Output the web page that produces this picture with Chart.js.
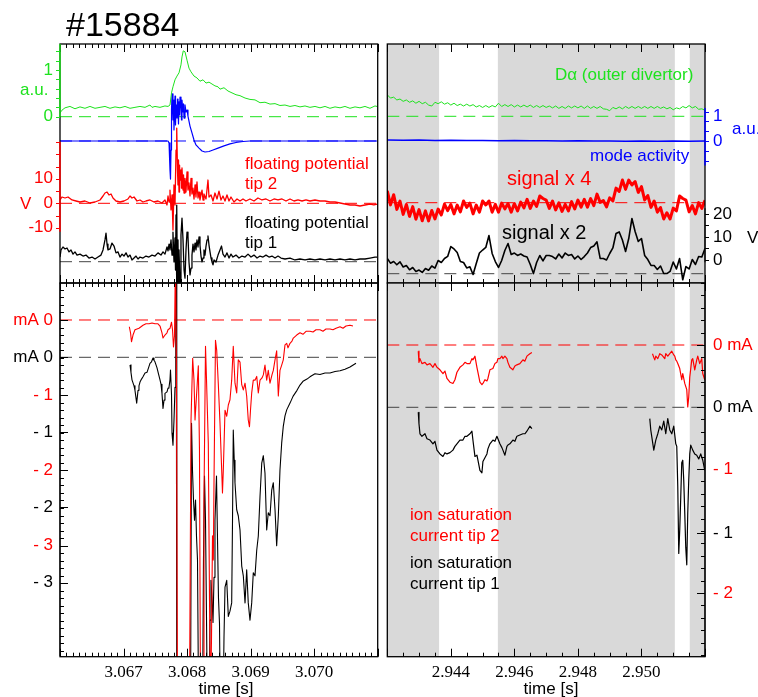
<!DOCTYPE html>
<html>
<head>
<meta charset="utf-8">
<script src="https://cdn.jsdelivr.net/npm/chart.js@4.4.1/dist/chart.umd.min.js"></script>
<style>
  html, body { margin: 0; padding: 0; background: #fff; }
  #wrap { position: relative; width: 758px; height: 697px; overflow: hidden; }
  #wrap canvas { position: absolute; left: 0; top: 0; }
</style>
</head>
<body>
<div id="wrap">
  <canvas id="tl" width="758" height="697"></canvas>
  <canvas id="bl" width="758" height="697"></canvas>
  <canvas id="tr" width="758" height="697"></canvas>
  <canvas id="br" width="758" height="697"></canvas>
</div>
<script>
// ── shot #15884, left window (3.066 – 3.071 s) ────────────────────
const tlDaT = [3.066000,3.066031,3.066079,3.066157,3.066236,3.066315,3.066393,3.066472,3.066551,3.066630,
  3.066708,3.066787,3.066866,3.066944,3.067023,3.067102,3.067180,3.067259,3.067338,3.067416,
  3.067448,3.067495,3.067574,3.067652,3.067700,3.067731,3.067755,3.067778,3.067810,3.067841,
  3.067873,3.067904,3.067920,3.067940,3.067967,3.067999,3.068030,3.068062,3.068109,3.068156,
  3.068203,3.068251,3.068298,3.068345,3.068392,3.068439,3.068487,3.068518,3.068581,3.068644,
  3.068707,3.068770,3.068833,3.068912,3.068990,3.069069,3.069148,3.069226,3.069305,3.069384,
  3.069462,3.069541,3.069620,3.069698,3.069777,3.069856,3.069934,3.070013,3.070092,3.070171,
  3.070249,3.070328,3.070407,3.070485,3.070564,3.070643,3.070721,3.070800,3.070879,3.070957,3.070989];
const tlDa = [0.08,0.14,0.19,0.22,0.17,0.21,0.18,0.22,0.18,0.20,
  0.22,0.18,0.21,0.19,0.22,0.18,0.20,0.22,0.20,0.25,
  0.20,0.22,0.20,0.23,0.22,0.25,0.51,0.64,0.79,0.87,
  0.94,1.11,1.28,1.41,1.39,1.21,1.04,0.96,0.87,0.83,
  0.76,0.79,0.72,0.74,0.70,0.66,0.64,0.59,0.62,0.55,
  0.51,0.47,0.45,0.40,0.37,0.36,0.30,0.31,0.27,0.28,
  0.24,0.25,0.22,0.24,0.21,0.23,0.20,0.22,0.19,0.22,
  0.18,0.21,0.19,0.22,0.18,0.21,0.19,0.22,0.18,0.23,0.22];

const tlModeT = [3.066000,3.066630,3.067259,3.067700,3.067716,3.067731,3.067739,3.067747,3.067755,3.067763,
  3.067778,3.067786,3.067794,3.067802,3.067810,3.067818,3.067826,3.067841,3.067849,3.067857,
  3.067865,3.067873,3.067881,3.067889,3.067904,3.067912,3.067920,3.067936,3.067944,3.067952,
  3.067967,3.067983,3.067999,3.068014,3.068046,3.068077,3.068109,3.068140,3.068188,3.068235,
  3.068282,3.068345,3.068408,3.068487,3.068581,3.068675,3.068770,3.068880,3.068990,3.069777,3.070989];
const tlMode = [0,0,0,0,-0.08,-1.19,-1.56,-0.37,1.27,1.93,
  0.86,1.68,0.45,1.19,1.84,0.66,1.48,0.94,1.72,1.27,
  0.70,1.60,1.07,1.80,1.35,0.86,1.68,1.19,1.52,0.94,
  1.48,1.19,1.27,1.02,0.61,0.33,0.04,-0.16,-0.29,-0.41,
  -0.45,-0.43,-0.37,-0.29,-0.20,-0.12,-0.06,-0.02,0,0,0];

const tlVf2T = [3.066000,3.066031,3.066079,3.066126,3.066189,3.066252,3.066315,3.066393,3.066472,3.066551,
  3.066630,3.066677,3.066708,3.066740,3.066771,3.066803,3.066834,3.066881,3.066944,3.067007,
  3.067070,3.067102,3.067133,3.067165,3.067212,3.067259,3.067306,3.067353,3.067416,3.067479,
  3.067542,3.067605,3.067652,3.067684,3.067700,3.067716,3.067731,3.067747,3.067763,3.067778,
  3.067794,3.067810,3.067826,3.067837,3.067849,3.067857,3.067865,3.067873,3.067881,3.067889,
  3.067904,3.067912,3.067920,3.067936,3.067944,3.067952,3.067967,3.067983,3.067999,3.068014,
  3.068030,3.068046,3.068062,3.068077,3.068093,3.068109,3.068125,3.068140,3.068156,3.068172,
  3.068188,3.068203,3.068235,3.068251,3.068266,3.068298,3.068329,3.068345,3.068377,3.068408,
  3.068439,3.068471,3.068502,3.068534,3.068565,3.068597,3.068628,3.068660,3.068691,3.068738,
  3.068786,3.068833,3.068880,3.068927,3.068990,3.069053,3.069116,3.069179,3.069242,3.069305,
  3.069368,3.069431,3.069494,3.069557,3.069620,3.069683,3.069746,3.069809,3.069872,3.069934,
  3.070013,3.070092,3.070171,3.070249,3.070328,3.070407,3.070485,3.070564,3.070643,3.070721,
  3.070800,3.070879,3.070941,3.070989];
const tlVf2 = [1.35,2.57,2.16,2.57,1.35,0.94,0.53,0.94,0.12,0.53,
  1.35,2.98,4.2,4.6,3.4,3.8,2.16,0.94,0.53,0.94,
  1.76,2.98,2.16,2.57,0.94,1.35,0.53,0.94,1.35,0.53,
  0.94,0.12,1.35,-0.69,2.98,0.53,5.4,-2.7,3.4,-10.9,
  7.5,-0.69,21.7,30.7,13.6,7.5,17.7,4.6,15.6,9.5,
  13.6,6.2,14.4,5.4,11.6,4.2,10.2,4.6,12.8,5.4,
  8.3,3.0,10.2,3.8,6.2,1.76,7.5,2.57,8.7,2.16,
  4.6,1.35,5.4,1.35,3.8,1.76,9.5,2.57,3.4,0.94,
  4.2,1.76,5.0,1.35,2.98,0.94,3.4,0.94,2.57,0.53,
  1.76,0.94,1.76,0.94,1.76,0.94,2.16,1.35,1.76,0.94,
  1.76,1.35,1.76,0.94,1.76,0.94,1.35,0.94,1.35,0.94,
  1.35,0.94,0.94,0.53,0.53,0.12,-0.29,-0.69,-0.69,-1.1,
  -0.69,-0.29,-0.69,-0.29];

const tlVf1T = [3.066000,3.066016,3.066047,3.066079,3.066110,3.066142,3.066173,3.066205,3.066236,3.066268,
  3.066315,3.066362,3.066409,3.066456,3.066504,3.066551,3.066598,3.066645,3.066677,3.066708,
  3.066724,3.066740,3.066755,3.066787,3.066818,3.066850,3.066881,3.066913,3.066944,3.066976,
  3.067007,3.067039,3.067070,3.067102,3.067133,3.067165,3.067196,3.067228,3.067259,3.067306,
  3.067353,3.067400,3.067448,3.067495,3.067542,3.067589,3.067621,3.067652,3.067684,3.067700,
  3.067716,3.067731,3.067747,3.067763,3.067778,3.067794,3.067810,3.067818,3.067826,3.067833,
  3.067841,3.067849,3.067857,3.067865,3.067873,3.067889,3.067904,3.067920,3.067936,3.067952,
  3.067967,3.067983,3.067999,3.068014,3.068030,3.068046,3.068062,3.068077,3.068093,3.068109,
  3.068125,3.068140,3.068156,3.068172,3.068188,3.068203,3.068219,3.068235,3.068251,3.068266,
  3.068282,3.068298,3.068314,3.068329,3.068345,3.068361,3.068377,3.068392,3.068408,3.068424,
  3.068455,3.068487,3.068518,3.068542,3.068565,3.068597,3.068628,3.068660,3.068691,3.068722,
  3.068770,3.068817,3.068864,3.068912,3.068959,3.069006,3.069053,3.069101,3.069148,3.069195,
  3.069242,3.069289,3.069336,3.069384,3.069431,3.069478,3.069541,3.069620,3.069698,3.069777,
  3.069856,3.069934,3.070013,3.070092,3.070171,3.070249,3.070328,3.070407,3.070485,3.070564,
  3.070643,3.070721,3.070800,3.070879,3.070957,3.070989];
const tlVf1 = [1.9,4.8,6.0,5.2,5.6,4.0,4.8,3.1,4.0,2.7,
  3.1,2.3,2.7,1.5,1.9,1.1,1.9,2.7,4.8,8.9,
  11.7,7.2,4.8,5.2,7.6,6.4,3.6,4.0,1.9,3.1,
  2.3,3.6,1.9,2.7,0.7,1.5,2.3,1.1,1.9,1.5,
  2.3,1.9,2.7,2.3,3.6,2.7,4.0,3.1,6.0,4.4,
  7.2,4.8,8.9,2.7,12.1,-0.1,9.7,-3.4,19.1,-9.5,
  23.1,-11.6,8.9,-11.6,4.8,-9.5,10.9,17.8,8.9,-3.4,
  -6.7,4.8,12.1,10.5,-0.1,-5.4,-2.6,2.7,7.2,4.0,
  7.6,4.8,8.9,6.0,10.1,6.8,2.3,-0.1,1.5,4.8,
  2.7,6.4,8.9,10.5,6.8,4.0,1.5,-0.1,-1.3,0.7,
  -0.1,2.7,4.8,6.4,3.1,1.9,3.6,1.5,3.1,1.9,
  2.7,1.5,2.3,1.9,3.1,1.9,2.7,1.5,2.3,1.9,
  2.7,1.9,2.3,1.5,2.3,1.5,1.1,1.5,0.7,1.1,
  0.7,1.1,0.7,1.1,0.7,1.1,0.7,1.1,0.7,1.1,
  0.7,1.1,1.1,1.5,1.9,1.9];

const blIs2T = [3.067091,3.067110,3.067125,3.067149,3.067180,3.067212,3.067243,3.067275,3.067306,3.067353,
  3.067401,3.067448,3.067495,3.067542,3.067574,3.067605,3.067621,3.067652,3.067684,3.067700,
  3.067731,3.067755,3.067771,3.067786,3.067802,3.067818,3.067833,3.067849,3.068038,3.068062,
  3.068088,3.068109,3.068125,3.068148,3.068177,3.068195,3.068211,3.068251,3.068266,3.068290,
  3.068306,3.068334,3.068353,3.068369,3.068384,3.068400,3.068413,3.068424,3.068447,3.068466,
  3.068491,3.068518,3.068545,3.068557,3.068570,3.068597,3.068624,3.068649,3.068675,3.068702,
  3.068727,3.068754,3.068781,3.068806,3.068833,3.068860,3.068885,3.068912,3.068938,3.068963,
  3.068982,3.068998,3.069017,3.069042,3.069069,3.069096,3.069121,3.069148,3.069179,3.069200,
  3.069226,3.069253,3.069278,3.069305,3.069336,3.069357,3.069384,3.069410,3.069436,3.069462,
  3.069489,3.069514,3.069541,3.069568,3.069588,3.069620,3.069651,3.069672,3.069725,3.069777,
  3.069824,3.069872,3.069934,3.069982,3.070029,3.070092,3.070139,3.070186,3.070249,3.070296,
  3.070344,3.070407,3.070454,3.070501,3.070564,3.070611];
const blIs2 = [-0.09,-0.17,-0.29,-0.20,-0.13,-0.12,-0.11,-0.09,-0.07,-0.05,
  -0.05,-0.04,-0.05,-0.05,-0.08,-0.17,-0.24,-0.20,-0.17,-0.13,
  -0.11,-0.03,-0.13,-0.36,-0.21,0.93,-0.80,-5.05,-5.05,-1.33,
  -0.51,-0.80,-1.33,-1.01,-0.61,-1.73,-5.05,-5.05,-2.39,-0.35,
  -0.80,-1.64,-3.72,-5.05,-4.26,-2.87,-3.19,-2.13,-0.27,-0.40,
  -0.84,-1.37,-2.00,-2.30,-2.00,-1.20,-1.28,-1.13,-1.06,-0.80,
  -0.35,-0.84,-0.97,-0.53,-0.56,-0.86,-0.93,-0.84,-1.01,-1.33,
  -1.42,-1.20,-0.97,-0.80,-0.80,-0.75,-0.97,-0.80,-0.77,-0.73,
  -0.60,-0.80,-0.67,-0.84,-0.73,-0.67,-0.53,-0.41,-1.01,-0.67,
  -0.60,-0.53,-0.33,-0.31,-0.37,-0.31,-0.28,-0.24,-0.20,-0.17,
  -0.19,-0.15,-0.15,-0.16,-0.13,-0.13,-0.15,-0.12,-0.12,-0.13,
  -0.11,-0.09,-0.11,-0.08,-0.07,-0.08];

const blIs1T = [3.067102,3.067117,3.067133,3.067149,3.067165,3.067180,3.067207,3.067228,3.067243,3.067259,
  3.067283,3.067306,3.067338,3.067369,3.067393,3.067416,3.067440,3.067464,3.067479,3.067495,
  3.067511,3.067527,3.067550,3.067574,3.067590,3.067605,3.067621,3.067637,3.067652,3.067684,
  3.067700,3.067715,3.067731,3.067739,3.067755,3.067763,3.067778,3.067794,3.067810,3.067822,
  3.067830,3.067838,3.068054,3.068070,3.068085,3.068101,3.068117,3.068133,3.068148,3.068164,
  3.068180,3.068195,3.068243,3.068258,3.068274,3.068290,3.068306,3.068321,3.068345,3.068361,
  3.068376,3.068392,3.068408,3.068424,3.068439,3.068463,3.068479,3.068494,3.068510,3.068526,
  3.068565,3.068581,3.068597,3.068624,3.068649,3.068675,3.068702,3.068715,3.068727,3.068742,
  3.068754,3.068781,3.068806,3.068833,3.068860,3.068885,3.068912,3.068938,3.068963,3.068990,
  3.069017,3.069042,3.069069,3.069096,3.069121,3.069148,3.069175,3.069200,3.069226,3.069253,
  3.069278,3.069305,3.069332,3.069357,3.069384,3.069410,3.069436,3.069462,3.069489,3.069514,
  3.069541,3.069568,3.069620,3.069667,3.069730,3.069777,3.069824,3.069887,3.069934,3.070013,
  3.070092,3.070171,3.070249,3.070328,3.070407,3.070485,3.070564,3.070658];
const blIs1 = [-0.10,-0.20,-0.30,-0.34,-0.38,-0.44,-0.61,-0.44,-0.38,-0.33,
  -0.29,-0.26,-0.21,-0.20,-0.14,-0.08,-0.06,-0.01,-0.04,-0.06,
  -0.10,-0.14,-0.22,-0.30,-0.36,-0.48,-0.68,-0.57,-0.48,-0.46,
  -0.41,-0.40,-0.30,-0.17,-0.50,-1.01,-1.17,-0.84,-0.40,1.16,
  1.16,-4.82,-4.82,-0.88,-1.50,-1.90,-2.17,-1.90,-2.38,-2.70,
  -4.55,-4.82,-4.82,-2.70,-1.58,-2.17,-3.50,-4.82,-4.82,-3.50,
  -2.97,-3.20,-3.53,-2.93,-2.17,-1.58,-2.43,-3.20,-3.54,-4.82,
  -4.82,-3.73,-3.06,-2.97,-3.45,-3.38,-3.27,-2.17,-0.97,-1.37,
  -1.67,-2.03,-2.11,-2.30,-2.78,-2.91,-3.27,-2.83,-3.27,-3.50,
  -3.27,-2.87,-2.91,-2.57,-2.38,-1.85,-1.41,-1.31,-1.54,-2.30,
  -2.07,-2.11,-1.77,-1.67,-2.03,-2.51,-2.11,-1.50,-1.14,-0.92,
  -0.78,-0.70,-0.61,-0.52,-0.44,-0.37,-0.32,-0.29,-0.26,-0.22,
  -0.23,-0.21,-0.21,-0.19,-0.18,-0.16,-0.13,-0.08];

// ── right window (2.942 – 2.952 s) ───────────────────────────────
const trTime = [2.9420,2.9421,2.9422,2.9423,2.9424,2.9425,2.9426,2.9427,2.9428,2.9429,
  2.9430,2.9431,2.9432,2.9433,2.9434,2.9435,2.9436,2.9437,2.9438,2.9439,
  2.9440,2.9441,2.9442,2.9443,2.9444,2.9445,2.9446,2.9447,2.9448,2.9449,
  2.9450,2.9451,2.9452,2.9453,2.9454,2.9455,2.9456,2.9457,2.9458,2.9459,
  2.9460,2.9461,2.9462,2.9463,2.9464,2.9465,2.9466,2.9467,2.9468,2.9469,
  2.9470,2.9471,2.9472,2.9473,2.9474,2.9475,2.9476,2.9477,2.9478,2.9479,
  2.9480,2.9481,2.9482,2.9483,2.9484,2.9485,2.9486,2.9487,2.9488,2.9489,
  2.9490,2.9491,2.9492,2.9493,2.9494,2.9495,2.9496,2.9497,2.9498,2.9499,
  2.9500,2.9501,2.9502,2.9503,2.9504,2.9505,2.9506,2.9507,2.9508,2.9509,
  2.9510,2.9511,2.9512,2.9513,2.9514,2.9515,2.9516,2.9517,2.9518,2.9519,
  2.9520];
const trDa = [0.46,0.39,0.41,0.35,0.37,0.32,0.35,0.30,0.33,0.28,
  0.32,0.27,0.30,0.24,0.22,0.30,0.27,0.31,0.26,0.29,
  0.24,0.28,0.23,0.26,0.22,0.26,0.22,0.25,0.20,0.23,
  0.19,0.23,0.19,0.23,0.20,0.28,0.21,0.25,0.21,0.25,
  0.20,0.24,0.20,0.24,0.20,0.24,0.19,0.23,0.19,0.23,
  0.19,0.22,0.18,0.22,0.17,0.21,0.17,0.22,0.18,0.22,
  0.18,0.22,0.17,0.22,0.17,0.21,0.17,0.21,0.16,0.15,
  0.12,0.19,0.16,0.20,0.16,0.21,0.17,0.21,0.17,0.21,
  0.17,0.21,0.17,0.21,0.17,0.21,0.17,0.20,0.16,0.19,
  0.14,0.18,0.16,0.21,0.18,0.23,0.18,0.21,0.15,0.16,
  0.13];
const trVf2 = [1.21,-0.22,0.82,-0.68,0.16,-1.19,-0.18,-1.40,-0.40,-1.68,
  -0.70,-1.84,-0.83,-1.86,-0.79,-1.66,-0.65,-1.25,-0.14,-0.81,
  -0.19,-1.14,-0.24,-0.94,0.17,-0.48,-0.04,-1.14,-0.24,-0.97,
  0.17,-0.23,0.17,-0.97,-0.17,-0.97,-0.04,-0.63,-0.09,-0.97,
  -0.09,-0.84,0.06,-0.53,0.34,-0.58,0.17,-0.38,0.68,0.43,
  0.27,-0.58,0.17,-0.74,-0.01,-0.89,-0.17,-0.84,0.11,-0.63,
  0.27,-0.46,0.34,-0.46,0.42,-0.30,0.88,0.03,0.22,-0.43,
  0.50,0.18,1.49,1.15,2.31,1.36,2.31,1.81,2.16,1.05,
  1.64,0.28,0.73,-0.48,0.17,-0.97,-0.50,-1.66,-1.03,-1.66,
  -0.55,-0.84,0.68,0.43,0.27,-0.94,-0.29,-1.14,0.01,-0.58,
  0.24];
const trVf1 = [3.10,2.15,2.48,1.82,2.42,1.37,1.67,0.80,1.26,0.46,
  0.75,0.25,1.06,0.70,1.57,1.13,2.69,2.29,3.10,3.52,
  5.54,5.05,4.32,2.50,2.28,1.17,1.40,-0.16,2.08,4.23,
  4.83,5.35,7.79,4.13,2.48,1.27,2.69,4.74,6.16,3.92,
  4.22,3.72,4.01,3.62,3.40,1.88,0.03,2.29,3.71,2.60,
  3.71,3.72,3.50,3.01,4.01,3.21,4.22,3.72,3.91,3.01,
  3.61,2.90,3.50,4.23,5.34,5.66,6.50,3.11,3.10,2.80,
  4.12,5.25,8.20,8.52,6.87,4.54,7.18,11.27,8.61,6.58,
  7.18,3.72,2.89,1.68,1.67,0.86,1.57,0.05,0.03,0.46,
  2.38,0.97,3.10,-1.24,1.46,0.97,2.89,1.88,3.50,3.41,
  5.14];
const trModeT = [2.9420,2.9425,2.9430,2.9435,2.9440,2.9445,2.9450,2.9455,2.9460,2.9465,
  2.9470,2.9475,2.9480,2.9485,2.9490,2.9495,2.9500,2.9505,2.9510,2.9515,2.9520];
const trMode = [0.04,0.03,0.04,0.02,0.03,0.02,0.02,0.01,0.02,0.01,
  0.01,0,0.01,0,0,-0.01,0,-0.01,0,-0.01,0];

const brTime1 = [2.942975,2.942997,2.943028,2.943091,2.943186,2.943249,2.943343,2.943437,2.943500,2.943563,
  2.943657,2.943752,2.943815,2.943878,2.943972,2.944066,2.944129,2.944192,2.944286,2.944381,
  2.944444,2.944507,2.944601,2.944664,2.944695,2.944758,2.944821,2.944853,2.944915,2.944978,
  2.945010,2.945073,2.945136,2.945167,2.945230,2.945324,2.945387,2.945450,2.945482,2.945544,
  2.945607,2.945639,2.945702,2.945765,2.945796,2.945859,2.945953,2.946016,2.946079,2.946173,
  2.946268,2.946331,2.946394,2.946488,2.946551];
const brIs2a = [-0.05,-0.14,-0.11,-0.15,-0.14,-0.16,-0.15,-0.18,-0.15,-0.18,
  -0.20,-0.23,-0.21,-0.27,-0.30,-0.31,-0.28,-0.22,-0.18,-0.16,
  -0.14,-0.15,-0.15,-0.11,-0.12,-0.09,-0.18,-0.22,-0.30,-0.32,
  -0.31,-0.28,-0.29,-0.27,-0.20,-0.19,-0.15,-0.14,-0.11,-0.11,
  -0.09,-0.11,-0.09,-0.11,-0.14,-0.18,-0.20,-0.17,-0.16,-0.15,
  -0.12,-0.13,-0.09,-0.07,-0.06];
const brIs1a = [-0.04,-0.13,-0.21,-0.23,-0.21,-0.25,-0.26,-0.29,-0.27,-0.34,
  -0.37,-0.39,-0.36,-0.37,-0.36,-0.34,-0.31,-0.29,-0.26,-0.26,
  -0.23,-0.23,-0.21,-0.19,-0.26,-0.39,-0.38,-0.42,-0.50,-0.52,
  -0.43,-0.40,-0.37,-0.33,-0.29,-0.26,-0.27,-0.23,-0.25,-0.29,
  -0.32,-0.34,-0.38,-0.31,-0.30,-0.29,-0.26,-0.27,-0.23,-0.22,
  -0.21,-0.21,-0.19,-0.15,-0.17];
const brIs2T2 = [2.950347,2.950388,2.950419,2.950451,2.950514,2.950576,2.950639,2.950702,2.950734,2.950765,
  2.950828,2.950891,2.950954,2.951017,2.951048,2.951080,2.951111,2.951143,2.951205,2.951268,
  2.951300,2.951363,2.951426,2.951457,2.951488,2.951520,2.951583,2.951614,2.951677,2.951740,
  2.951772,2.951834,2.951897,2.951929,2.951992];
const brIs2b = [-0.07,-0.10,-0.12,-0.09,-0.11,-0.07,-0.08,-0.10,-0.11,-0.07,
  -0.09,-0.07,-0.05,-0.08,-0.09,-0.12,-0.13,-0.15,-0.19,-0.28,
  -0.23,-0.31,-0.36,-0.50,-0.42,-0.26,-0.12,-0.11,-0.20,-0.12,
  -0.09,-0.15,-0.11,-0.23,-0.28];
const brIs1T2 = [2.950262,2.950293,2.950388,2.950451,2.950514,2.950576,2.950639,2.950702,2.950765,2.950828,
  2.950891,2.950954,2.951017,2.951080,2.951111,2.951143,2.951174,2.951205,2.951237,2.951268,
  2.951300,2.951331,2.951363,2.951394,2.951426,2.951457,2.951488,2.951520,2.951551,2.951614,
  2.951677,2.951740,2.951803,2.951866,2.951929,2.951992];
const brIs1b = [-0.09,-0.18,-0.34,-0.26,-0.21,-0.15,-0.18,-0.11,-0.21,-0.09,
  -0.18,-0.21,-0.15,-0.29,-0.31,-0.63,-1.16,-0.97,-0.71,-0.44,
  -0.42,-0.58,-0.84,-1.11,-1.25,-0.84,-0.58,-0.37,-0.30,-0.34,
  -0.37,-0.38,-0.41,-0.37,-0.42,-0.50];

// probe-plunge windows left unshaded
const shadeFrom = [2.9420, 2.94548, 2.95152];
const shadeTo = [2.94363, 2.95105, 2.9520];

// tick labels
const tlDaTicks = [0, 1];
const tlVfTicks = [10, 0, -10];
const trModeTicks = [1, 0];
const trVTicks = [20, 10, 0];
const blIsTicks = [0, -1, -2, -3];
const brIs2Ticks = [0, -1, -2];
const brIs1Ticks = [0, -1];
const blTimeTicks = [3.067, 3.068, 3.069, 3.070];
const brTimeTicks = [2.944, 2.946, 2.948, 2.950];

const G = '#1ee21e', B = '#0000ff', R = '#ff0000', K = '#000000';
const SANS = "'Liberation Sans', Arial, sans-serif";
const SERIF = "'Liberation Serif', 'Times New Roman', serif";

const pts = (ts, vs) => ts.map((t, i) => ({ x: t, y: vs[i] }));

function trace(data, color, axis, w) {
  return { data, borderColor: color, borderWidth: w || 1, yAxisID: axis, pointRadius: 0,
    tension: 0, borderJoinStyle: 'round', spanGaps: false };
}
function zeroLine(xr, color, axis) {
  return { data: [{ x: xr[0], y: 0 }, { x: xr[1], y: 0 }], borderColor: color, borderWidth: 1,
    borderDash: [12, 7], yAxisID: axis, pointRadius: 0 };
}

const zeroText = (v, unitLeft) => v === 0 ? (unitLeft ? 'mA 0' : '0 mA') : '- ' + Math.abs(v);

const decorConfig = {
  tl: {
    xMinor: 0.0001, xMajor: 0.001,
    axes: [
      { scale: 'yG', side: 'left', color: G, from: 0, to: 1.5567, step: 0.2, out: true, width: 1.5 },
      { scale: 'yR', side: 'left', color: R, from: -11.6, to: 25.1, step: 5, out: true, width: 1.5 },
    ],
    labels: [
      { scale: 'yG', side: 'left', color: G, values: tlDaTicks, texts: tlDaTicks.map(String) },
      { scale: 'yR', side: 'left', color: R, values: tlVfTicks, texts: tlVfTicks.map(String) },
    ],
    notes: [
      { text: '#15884', x: 66, y: 36, size: 34, color: K },
      { text: 'a.u.', x: 20, y: 95, color: G },
      { text: 'V', x: 20, y: 209, color: R },
      { text: 'floating potential', x: 245, y: 169, color: R },
      { text: 'tip 2', x: 245, y: 189, color: R },
      { text: 'floating potential', x: 245, y: 228, color: K },
      { text: 'tip 1', x: 245, y: 248, color: K },
    ],
  },
  tr: {
    xMinor: 0.0005, xMajor: 0.002,
    bands: shadeFrom.map((s, i) => [s, shadeTo[i]]),
    axes: [
      { scale: 'yB', side: 'right', color: B, from: -1, to: 1.35, step: 0.4, out: true, width: 1.5 },
      { scale: 'yL', side: 'right', color: K, from: -1, to: 22.5, step: 5, out: true },
    ],
    labels: [
      { scale: 'yB', side: 'right', color: B, values: trModeTicks, texts: trModeTicks.map(String) },
      { scale: 'yL', side: 'right', color: K, values: trVTicks, texts: trVTicks.map(String) },
    ],
    notes: [
      { text: 'D\u03b1 (outer divertor)', x: 555, y: 80, color: G },
      { text: 'mode activity', x: 590, y: 161, color: B },
      { text: 'signal x 4', x: 507, y: 185, size: 20, color: R },
      { text: 'signal x 2', x: 502, y: 239, size: 20, color: K },
      { text: 'a.u.', x: 732, y: 134, color: B },
      { text: 'V', x: 747, y: 243, color: K },
    ],
  },
  bl: {
    xMinor: 0.0001, xMajor: 0.001,
    axes: [{ scale: 'yR', side: 'left', color: K, from: -4.47, to: 0.49, step: 0.1, out: false }],
    labels: [
      { scale: 'yR', side: 'left', color: R, tick: 8, values: blIsTicks, texts: blIsTicks.map(v => zeroText(v, true)) },
      { scale: 'yK', side: 'left', color: K, tick: 8, values: blIsTicks, texts: blIsTicks.map(v => zeroText(v, true)) },
    ],
    xTicks: blTimeTicks, xTitle: 'time [s]', xTitleAt: 226,
  },
  br: {
    xMinor: 0.0005, xMajor: 0.002,
    bands: shadeFrom.map((s, i) => [s, shadeTo[i]]),
    axes: [{ scale: 'yR', side: 'right', color: K, from: -2.51, to: 0.5, step: 0.1, out: false }],
    labels: [
      { scale: 'yR', side: 'right', color: R, tick: 8, values: brIs2Ticks, texts: brIs2Ticks.map(v => zeroText(v, false)) },
      { scale: 'yK', side: 'right', color: K, tick: 8, values: brIs1Ticks, texts: brIs1Ticks.map(v => zeroText(v, false)) },
    ],
    notes: [
      { text: 'ion saturation', x: 410, y: 520, color: R },
      { text: 'current tip 2', x: 410, y: 541, color: R },
      { text: 'ion saturation', x: 410, y: 568, color: K },
      { text: 'current tip 1', x: 410, y: 589, color: K },
    ],
    xTicks: brTimeTicks, xTitle: 'time [s]', xTitleAt: 551,
  },
};

const decorPlugin = {
  id: 'decor',
  beforeDatasetsDraw(chart) {
    const o = decorConfig[chart.canvas.id];
    if (!o.bands) return;
    const { ctx, chartArea: a, scales: { x } } = chart;
    ctx.save();
    ctx.fillStyle = '#d9d9d9';
    o.bands.forEach(b => {
      const x0 = x.getPixelForValue(b[0]), x1 = x.getPixelForValue(b[1]);
      ctx.fillRect(x0, a.top, x1 - x0, a.bottom - a.top);
    });
    ctx.restore();
  },
  afterDraw(chart) {
    const o = decorConfig[chart.canvas.id];
    const { ctx, chartArea: a, scales } = chart;
    const x = scales.x;
    ctx.save();
    ctx.strokeStyle = K;
    ctx.lineWidth = 1.3;
    ctx.strokeRect(a.left, a.top, a.right - a.left, a.bottom - a.top);

    // time ticks on top and bottom edges
    ctx.lineWidth = 1;
    ctx.beginPath();
    const n = Math.round((x.max - x.min) / o.xMinor);
    for (let i = 0; i <= n; i++) {
      const v = x.min + i * o.xMinor;
      const r = v / o.xMajor;
      const len = Math.abs(r - Math.round(r)) < 1e-3 ? 8 : 4;
      const px = Math.round(x.getPixelForValue(v)) + 0.5;
      ctx.moveTo(px, a.bottom); ctx.lineTo(px, a.bottom - len);
      ctx.moveTo(px, a.top); ctx.lineTo(px, a.top + len);
    }
    ctx.stroke();

    // coloured value axes
    (o.axes || []).forEach(ax => {
      const s = scales[ax.scale];
      const ex = ax.side === 'left' ? a.left : a.right;
      const dir = (ax.side === 'left' ? -1 : 1) * (ax.out ? 1 : -1);
      ctx.strokeStyle = ax.color;
      ctx.lineWidth = ax.width || 1;
      ctx.beginPath();
      ctx.moveTo(ex, s.getPixelForValue(ax.from));
      ctx.lineTo(ex, s.getPixelForValue(ax.to));
      ctx.stroke();
      ctx.lineWidth = 1;
      ctx.beginPath();
      const k0 = Math.ceil(ax.from / ax.step - 1e-6), k1 = Math.floor(ax.to / ax.step + 1e-6);
      for (let k = k0; k <= k1; k++) {
        const py = Math.round(s.getPixelForValue(k * ax.step)) + 0.5;
        ctx.moveTo(ex, py); ctx.lineTo(ex + dir * 4, py);
      }
      ctx.stroke();
    });

    // value labels
    ctx.font = '17px ' + SANS;
    ctx.textBaseline = 'middle';
    (o.labels || []).forEach(l => {
      const s = scales[l.scale];
      const left = l.side === 'left';
      const ex = left ? a.left : a.right;
      l.values.forEach((v, i) => {
        const py = s.getPixelForValue(v);
        ctx.fillStyle = l.color;
        ctx.textAlign = left ? 'right' : 'left';
        ctx.fillText(l.texts[i], left ? a.left - 7 : a.right + 8, py);
        if (l.tick) {
          ctx.strokeStyle = K; ctx.lineWidth = 1;
          ctx.beginPath();
          ctx.moveTo(ex, Math.round(py) + 0.5);
          ctx.lineTo(ex + (left ? l.tick : -l.tick), Math.round(py) + 0.5);
          ctx.stroke();
        }
      });
    });

    // free text
    ctx.textAlign = 'left';
    ctx.textBaseline = 'alphabetic';
    (o.notes || []).forEach(t => {
      ctx.font = (t.size || 17) + 'px ' + SANS;
      ctx.fillStyle = t.color;
      ctx.fillText(t.text, t.x, t.y);
    });

    if (o.xTicks) {
      ctx.fillStyle = K;
      ctx.textAlign = 'center';
      ctx.font = '17px ' + SERIF;
      o.xTicks.forEach(v => ctx.fillText(v.toFixed(3), x.getPixelForValue(v), a.bottom + 20));
      ctx.font = '17px ' + SANS;
      ctx.fillText(o.xTitle, o.xTitleAt, 694);
    }
    ctx.restore();
  },
};

function makeChart(id, pad, xr, yr, datasets) {
  const scales = { x: { type: 'linear', min: xr[0], max: xr[1], display: false } };
  Object.keys(yr).forEach(k => {
    scales[k] = { type: 'linear', axis: 'y', min: yr[k][0], max: yr[k][1], display: false };
  });
  return new Chart(document.getElementById(id), {
    type: 'line',
    data: { datasets },
    options: {
      responsive: false,
      animation: false,
      events: [],
      layout: { padding: pad },
      plugins: { legend: { display: false }, tooltip: { enabled: false } },
      scales,
    },
    plugins: [decorPlugin],
  });
}

const leftX = [3.066, 3.071];
const rightX = [2.942, 2.952];

makeChart('tl', { left: 60, top: 44, right: 380.3, bottom: 414 }, leftX,
  { yG: [-3.561, 1.5567], yB: [-5.8197, 3.9754], yR: [-32.531, 65.02], yK: [-8.694, 88.857] },
  [
    trace(pts(tlDaT, tlDa), G, 'yG', 1),
    trace(pts(tlModeT, tlMode), B, 'yB', 1.2),
    trace(pts(tlVf2T, tlVf2), R, 'yR', 1.3),
    trace(pts(tlVf1T, tlVf1), K, 'yK', 1.3),
    zeroLine(leftX, G, 'yG'),
    zeroLine(leftX, B, 'yB'),
    zeroLine(leftX, R, 'yR'),
    zeroLine(leftX, '#444', 'yK'),
  ]);

makeChart('bl', { left: 60, top: 283, right: 380.3, bottom: 40.3 }, leftX,
  { yR: [-4.4774, 0.4920], yK: [-3.9867, 0.9893] },
  [
    trace(pts(blIs2T, blIs2), R, 'yR', 1.1),
    trace(pts(blIs1T, blIs1), K, 'yK', 1.1),
    zeroLine(leftX, R, 'yR'),
    zeroLine(leftX, '#444', 'yK'),
  ]);

makeChart('tr', { left: 387.3, top: 44, right: 53, bottom: 414 }, rightX,
  { yG: [-3.5696, 1.5482], yB: [-5.8197, 3.9754], yR: [-8.194, 16.194], yK: [-1.898, 46.878], yL: [-10, 93.913] },
  [
    trace(pts(trTime, trDa), G, 'yG', 1),
    trace(pts(trModeT, trMode), B, 'yB', 1.6),
    trace(pts(trTime, trVf2), R, 'yR', 3),
    trace(pts(trTime, trVf1), K, 'yK', 1.6),
    zeroLine(rightX, G, 'yG'),
    zeroLine(rightX, R, 'yR'),
    zeroLine(rightX, '#444', 'yK'),
  ]);

makeChart('br', { left: 387.3, top: 283, right: 53, bottom: 40.3 }, rightX,
  { yR: [-2.5137, 0.5], yK: [-1.9794, 0.9865] },
  [
    trace(pts(brTime1, brIs2a).concat([{ x: 2.9485, y: null }], pts(brIs2T2, brIs2b)), R, 'yR', 1.2),
    trace(pts(brTime1, brIs1a).concat([{ x: 2.9485, y: null }], pts(brIs1T2, brIs1b)), K, 'yK', 1.2),
    zeroLine(rightX, R, 'yR'),
    zeroLine(rightX, '#444', 'yK'),
  ]);
</script>
</body>
</html>
